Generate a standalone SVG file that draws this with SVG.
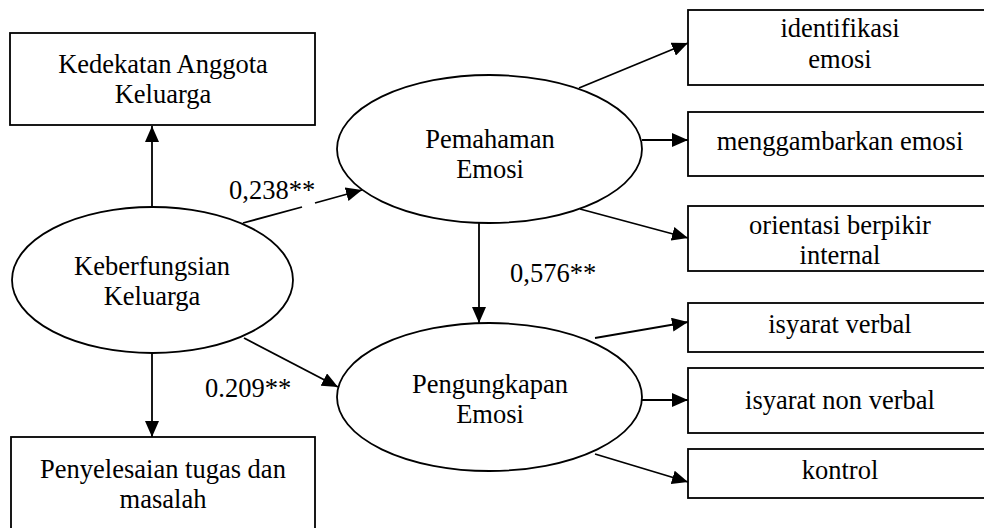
<svg xmlns="http://www.w3.org/2000/svg" width="984" height="528" viewBox="0 0 984 528">
<defs>
<marker id="ah" markerUnits="userSpaceOnUse" markerWidth="16" markerHeight="14" viewBox="0 0 16 14" refX="16" refY="7" orient="auto">
<path d="M0,0 L16,7 L0,14 Z" fill="#000"/>
</marker>
</defs>
<style>
.n rect, .n ellipse { fill: #fff; stroke: #000; stroke-width: 1.8; }
.c line { stroke: #000; stroke-width: 1.8; }
text { font-family: "Liberation Serif", "Times New Roman", serif; font-size: 26.5px; fill: #000; }
.m { text-anchor: middle; }
</style>
<rect width="984" height="528" fill="#fff"/>
<g class="c" id="connectors">
<line x1="152" y1="207" x2="152" y2="126" marker-end="url(#ah)"/>
<line x1="152" y1="353" x2="152" y2="437" marker-end="url(#ah)"/>
<line x1="243" y1="223" x2="302" y2="207"/>
<line x1="315" y1="203" x2="362" y2="190" marker-end="url(#ah)"/>
<line x1="244" y1="338" x2="338" y2="387" marker-end="url(#ah)"/>
<line x1="479" y1="223" x2="479" y2="323" marker-end="url(#ah)"/>
<line x1="579" y1="88" x2="688" y2="43" marker-end="url(#ah)"/>
<line x1="642" y1="140" x2="688" y2="140" marker-end="url(#ah)"/>
<line x1="580" y1="209" x2="688" y2="238" marker-end="url(#ah)"/>
<line x1="595" y1="338" x2="688" y2="322" marker-end="url(#ah)"/>
<line x1="642" y1="400" x2="688" y2="400" marker-end="url(#ah)"/>
<line x1="595" y1="454" x2="688" y2="482" marker-end="url(#ah)"/>
</g>
<g class="n" id="kedekatan">
<rect x="10" y="33" width="305" height="92"/>
<text class="m" x="163" y="73">Kedekatan Anggota</text>
<text class="m" x="163" y="103">Keluarga</text>
</g>
<g class="n" id="keberfungsian">
<ellipse cx="152.5" cy="280" rx="140.5" ry="73"/>
<text class="m" x="152" y="275">Keberfungsian</text>
<text class="m" x="152" y="305">Keluarga</text>
</g>
<g class="n" id="penyelesaian">
<rect x="11" y="437" width="304" height="100"/>
<text class="m" x="163" y="478">Penyelesaian tugas dan</text>
<text class="m" x="163" y="508">masalah</text>
</g>
<g class="n" id="pemahaman">
<ellipse cx="489.5" cy="149" rx="152.5" ry="74"/>
<text class="m" x="490" y="148">Pemahaman</text>
<text class="m" x="490" y="178">Emosi</text>
</g>
<g class="n" id="pengungkapan">
<ellipse cx="489.5" cy="397" rx="152.5" ry="74"/>
<text class="m" x="490" y="393">Pengungkapan</text>
<text class="m" x="490" y="423">Emosi</text>
</g>
<g class="n" id="identifikasi">
<rect x="688" y="10" width="306" height="75"/>
<text class="m" x="840" y="37">identifikasi</text>
<text class="m" x="840" y="68">emosi</text>
</g>
<g class="n" id="menggambarkan">
<rect x="688" y="112" width="306" height="64"/>
<text class="m" x="840" y="150">menggambarkan emosi</text>
</g>
<g class="n" id="orientasi">
<rect x="688" y="206" width="306" height="65"/>
<text class="m" x="840" y="234">orientasi berpikir</text>
<text class="m" x="840" y="264">internal</text>
</g>
<g class="n" id="isyarat-verbal">
<rect x="688" y="303" width="306" height="49"/>
<text class="m" x="840" y="333">isyarat verbal</text>
</g>
<g class="n" id="isyarat-non-verbal">
<rect x="688" y="368" width="306" height="65"/>
<text class="m" x="840" y="409">isyarat non verbal</text>
</g>
<g class="n" id="kontrol">
<rect x="688" y="449" width="306" height="49"/>
<text class="m" x="840" y="479">kontrol</text>
</g>
<g id="labels">
<text x="229" y="199">0,238**</text>
<text x="510" y="282">0,576**</text>
<text x="205" y="397">0.209**</text>
</g>
</svg>
